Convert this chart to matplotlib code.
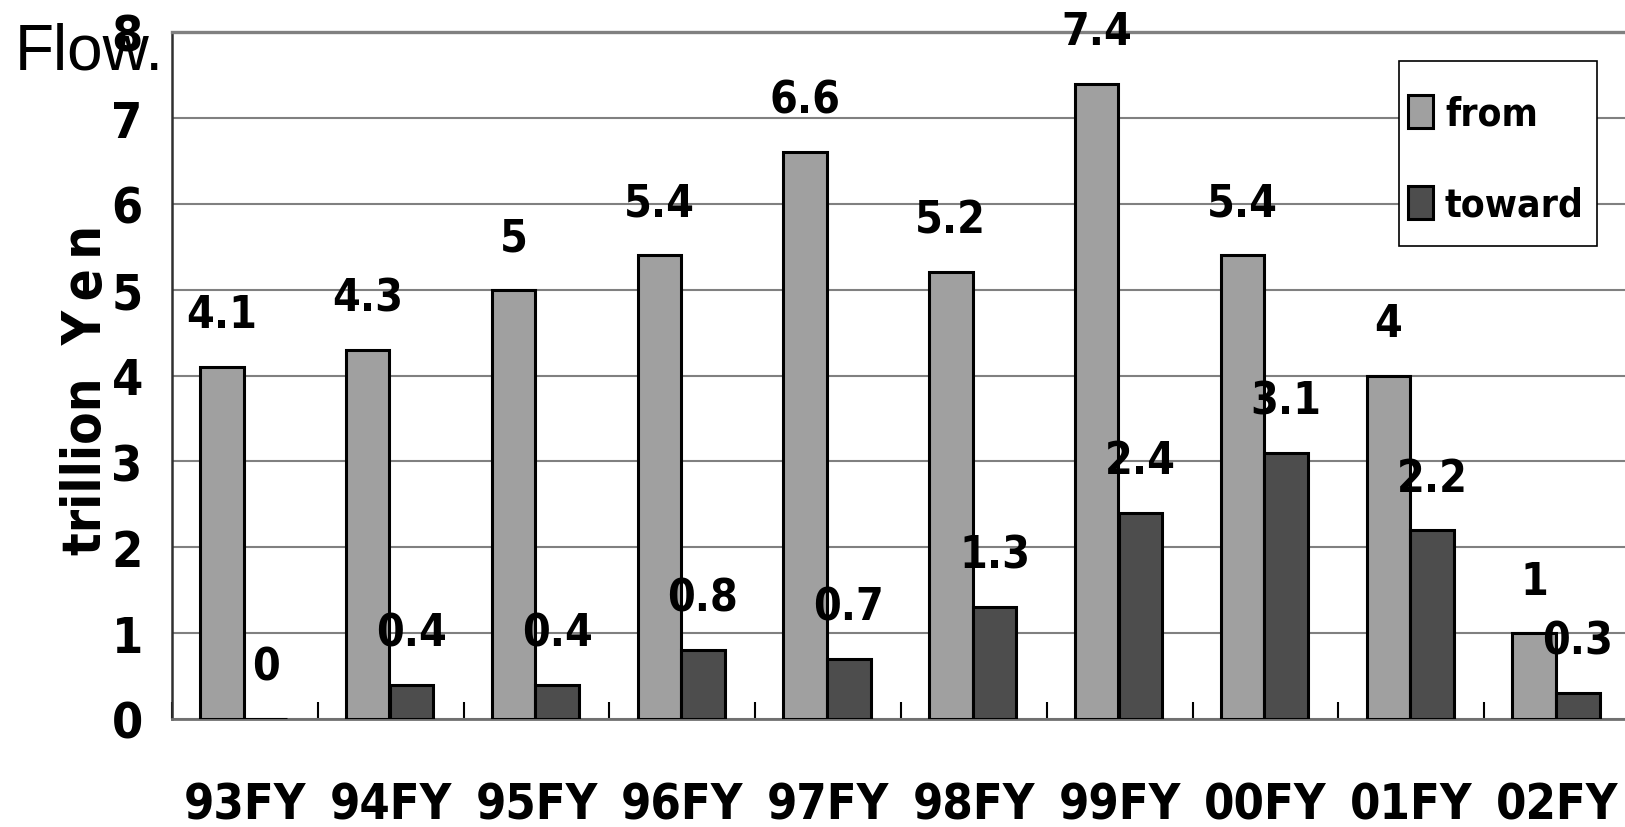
import numpy as np
import matplotlib
matplotlib.use("Agg")
import matplotlib.pyplot as plt
from matplotlib import font_manager
from matplotlib.patches import Rectangle

years = ['93FY', '94FY', '95FY', '96FY', '97FY', '98FY', '99FY', '00FY', '01FY', '02FY']
flow_from = [4.1, 4.3, 5, 5.4, 6.6, 5.2, 7.4, 5.4, 4, 1]
flow_toward = [0, 0.4, 0.4, 0.8, 0.7, 1.3, 2.4, 3.1, 2.2, 0.3]

# narrow bold face for numbers and labels (DejaVu Sans Condensed Bold if present)
files = [f.fname for f in font_manager.fontManager.ttflist]
narrow = [p for p in files if 'Condensed-Bold.' in p and 'Mono' not in p and 'Serif' not in p]
if narrow:
    bold_fp = font_manager.FontProperties(fname=narrow[0])
else:
    bold_fp = font_manager.FontProperties(family='Liberation Sans', weight='bold')


def bfp(size):
    p = bold_fp.copy()
    p.set_size(size)
    return p


W, H = 1625, 828
fig = plt.figure(figsize=(W / 100, H / 100), dpi=100)
ax = fig.add_axes([172 / W, 1 - 720 / H, 1458 / W, 687 / H])

x = np.arange(len(years))
w = 0.298
b1 = ax.bar(x - 0.158, flow_from, w, color='#a0a0a0', edgecolor='black', linewidth=2.2,
            label='from', zorder=3)
b2 = ax.bar(x + 0.142, flow_toward, w, color='#4d4d4d', edgecolor='black', linewidth=2.2,
            label='toward', zorder=3)

# value labels above each bar
for bars, vals in ((b1, flow_from), (b2, flow_toward)):
    for rect, v in zip(bars, vals):
        ax.annotate('%g' % v, (rect.get_x() + rect.get_width() / 2, v),
                    xytext=(0, 22), textcoords='offset points', ha='center', va='bottom',
                    fontproperties=bfp(32), zorder=5, annotation_clip=False)

ax.set_xlim(-0.5, len(years) - 0.5)
ax.set_ylim(0, 8)
ax.set_yticks(range(0, 9))
ax.yaxis.grid(True, color='#808080', linewidth=1.5, zorder=0)
ax.tick_params(axis='y', length=0, pad=21)
ax.set_yticklabels([str(v) for v in range(0, 9)], fontproperties=bfp(36))

# boundary ticks between years, labels centred on each year
ax.set_xticks(np.arange(len(years) + 1) - 0.5)
ax.set_xticklabels([])
ax.tick_params(axis='x', which='major', direction='in', length=12, width=1.5, color='black')
ax.set_xticks(x, minor=True)
ax.set_xticklabels(years, minor=True, fontproperties=bfp(35))
ax.tick_params(axis='x', which='minor', length=0, pad=44)

ax.spines['top'].set_color('#808080')
ax.spines['top'].set_linewidth(2.4)
ax.spines['left'].set_color('#303030')
ax.spines['left'].set_linewidth(1.8)
ax.spines['bottom'].set_color('#707070')
ax.spines['bottom'].set_linewidth(2)
ax.spines['right'].set_visible(False)

ax.set_ylabel('trillion  Y\u2009e\u2009n', fontproperties=bfp(38))
ax.yaxis.set_label_coords(-60 / 1458, 0.48)

# legend box with the two entries inside it
ax.add_patch(Rectangle((1399 / W, 1 - 247 / H), 198 / W, 185 / H, transform=fig.transFigure,
                       facecolor='white', edgecolor='black', linewidth=1.2, zorder=4.5,
                       clip_on=False))
leg = ax.legend(loc='upper left', bbox_to_anchor=(1408 / W, 1 - 96 / H),
                bbox_transform=fig.transFigure, frameon=False, prop=bfp(28), borderaxespad=0,
                handlelength=0.65, handleheight=0.9, handletextpad=0.3,
                labelspacing=1.36, borderpad=0)
leg.set_zorder(5)

fig.text(15 / W, 1 - 22 / H, 'Flow.', fontsize=46, family=['Liberation Sans', 'DejaVu Sans'],
         va='top', ha='left')

fig.savefig('out.png', dpi=100)
